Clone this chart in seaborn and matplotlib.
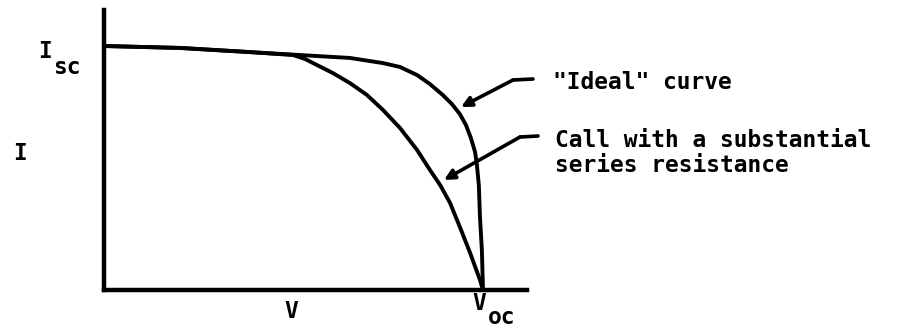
#!/usr/bin/env python
# I-V curve of a solar cell: ideal vs. cell with series resistance
import numpy as np
import pandas as pd
import matplotlib
matplotlib.use('Agg')
import matplotlib.pyplot as plt
import seaborn as sns

# Normalised voltage (V / Voc) and current (I / Isc)
ideal_v = [0.0, 0.201, 0.385, 0.517, 0.649, 0.736, 0.781, 0.826, 0.860,
           0.894, 0.918, 0.939, 0.955, 0.968, 0.979, 0.984, 0.989, 0.992,
           0.997, 1.0]
ideal_i = [1.0, 0.992, 0.975, 0.963, 0.951, 0.930, 0.914, 0.881, 0.844,
           0.799, 0.762, 0.721, 0.676, 0.623, 0.566, 0.512, 0.430, 0.299,
           0.164, 0.0]

series_v = [0.0, 0.201, 0.385, 0.499, 0.530, 0.562, 0.604, 0.649, 0.694,
            0.736, 0.781, 0.826, 0.860, 0.887, 0.913, 0.939, 0.966, 0.992,
            1.0]
series_i = [1.0, 0.992, 0.975, 0.963, 0.947, 0.922, 0.889, 0.848, 0.799,
            0.738, 0.664, 0.574, 0.492, 0.430, 0.357, 0.258, 0.152, 0.041,
            0.0]

labels = ['"Ideal" curve', 'Call with a substantial\nseries resistance']

df = pd.concat([
    pd.DataFrame({'V': ideal_v, 'I': ideal_i, 'curve': 'ideal'}),
    pd.DataFrame({'V': series_v, 'I': series_i, 'curve': 'series'}),
], ignore_index=True)

sns.set_style('white')
plt.rcParams['font.family'] = ['DejaVu Sans Mono']
plt.rcParams['font.weight'] = 'bold'
plt.rcParams['text.color'] = 'black'

W, H = 898, 330
fig = plt.figure(figsize=(W / 100, H / 100), dpi=100)
# axes box in pixels: x 104..527, y 10..290
ax = fig.add_axes([104 / W, (H - 290) / H, (527 - 104) / W, (290 - 10) / H])

sns.lineplot(data=df, x='V', y='I', units='curve', estimator=None, sort=False,
             color='black', lw=2.8, ax=ax, legend=False,
             solid_joinstyle='round', solid_capstyle='round', clip_on=False)

ax.set_xlim(0, (527 - 104) / 379)
ax.set_ylim(0, (290 - 10) / 244)
ax.set_xticks([])
ax.set_yticks([])
ax.set_xlabel('')
ax.set_ylabel('')
for s in ['top', 'right']:
    ax.spines[s].set_visible(False)
for s in ['left', 'bottom']:
    ax.spines[s].set_linewidth(3.2)
    ax.spines[s].set_color('black')
    ax.spines[s].set_capstyle('projecting')


def px(x, y):
    # pixel position -> data coordinates
    return ((x - 104) / 379, (290 - y) / 244)


# callout arrows: tail, elbow, tip (pixels)
callouts = [((533, 79), (513, 80), (461, 107)),
            ((538, 136), (520, 137), (444, 180))]
for tail, elbow, tip in callouts:
    a, b = px(*tail), px(*elbow)
    ax.plot([a[0], b[0]], [a[1], b[1]], color='black', lw=2.6,
            solid_capstyle='round', clip_on=False)
    ax.annotate('', xy=px(*tip), xytext=b, annotation_clip=False,
                arrowprops=dict(arrowstyle='-|>', color='black', lw=2.6,
                                mutation_scale=15, shrinkA=0, shrinkB=0))

fs = 16.5
def ftext(x, y, s, **kw):
    fig.text(x / W, 1 - y / H, s, fontsize=fs, fontweight='bold',
             color='black', va='center', **kw)

ftext(553, 82, labels[0])
first, second = labels[1].split('\n')
ftext(555, 140, first)
ftext(555, 166, second)

# axis labels
ftext(45, 51, 'I', ha='center')
ftext(67, 67, 'sc', ha='center')
ftext(20, 153, 'I', ha='center')
ftext(291, 311, 'V', ha='center')
ftext(479, 304, 'V', ha='center')
ftext(502, 317, 'oc', ha='center')

fig.savefig('out.png', dpi=100)
